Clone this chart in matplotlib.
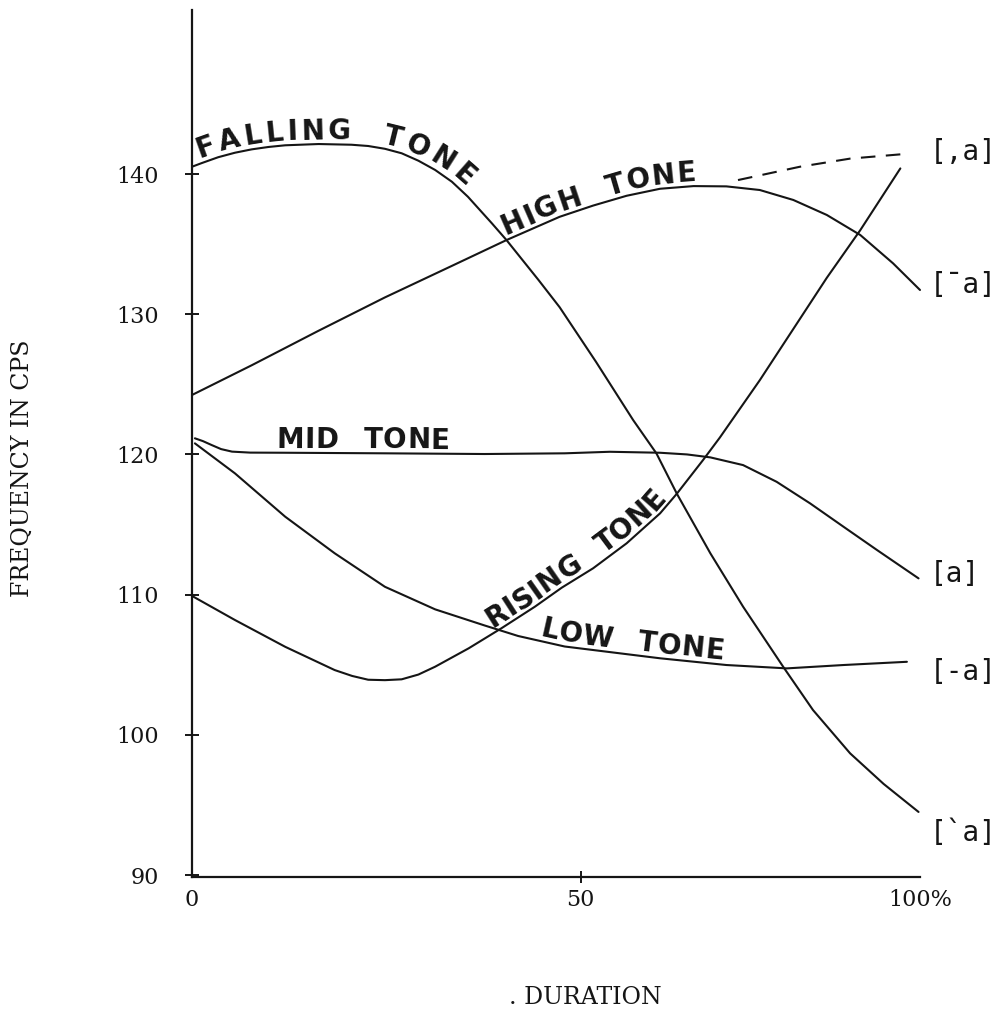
import numpy as np
import matplotlib
matplotlib.use("Agg")
import matplotlib.pyplot as plt
from matplotlib.font_manager import FontProperties
from matplotlib.transforms import offset_copy

# ---------------- data ----------------
falling_x = [0.0, 1.33, 3.6, 5.9, 8.2, 10.5, 12.8, 17.4, 21.9, 24.2, 26.5, 28.8,
             31.1, 33.4, 35.7, 37.9, 41.2, 43.2, 47.6, 50.5, 55.5, 60.6, 63.8,
             66.6, 71.2, 75.7, 81.2, 85.3, 90.4, 95.0, 99.8]
falling_y = [140.52, 140.78, 141.2, 141.52, 141.76, 141.93, 142.05, 142.14, 142.09,
             142.0, 141.8, 141.48, 140.95, 140.29, 139.45, 138.38, 136.48, 135.29,
             132.44, 130.5, 126.6, 122.45, 120.07, 117.2, 112.95, 109.14, 104.86,
             101.77, 98.68, 96.5, 94.5]

high_x = [0.0, 8.2, 17.3, 26.5, 35.7, 43.2, 50.5, 55.1, 59.7, 64.3, 68.9, 73.4,
          78.0, 82.6, 87.2, 91.8, 96.3, 100.0]
high_y = [124.24, 126.36, 128.8, 131.2, 133.45, 135.29, 136.95, 137.75, 138.45,
          138.95, 139.14, 139.12, 138.86, 138.15, 137.08, 135.65, 133.63, 131.73]

high_dash_x = [75.0, 83.5, 90.4, 97.9]
high_dash_y = [139.57, 140.52, 141.1, 141.43]

mid_x = [0.4, 1.5, 2.7, 4.0, 5.5, 8.0, 12.8, 26.5, 40.2, 51.2, 57.4, 64.3, 68.0,
         71.2, 75.7, 80.3, 84.9, 89.5, 94.1, 99.8]
mid_y = [121.15, 120.95, 120.67, 120.38, 120.2, 120.13, 120.12, 120.08, 120.03,
         120.08, 120.19, 120.12, 120.0, 119.79, 119.24, 118.05, 116.51, 114.84,
         113.18, 111.16]

rising_x = [0.2, 5.9, 12.8, 19.6, 22.0, 24.2, 26.5, 28.8, 31.1, 33.4, 38.0, 42.5,
            47.1, 50.8, 55.1, 59.7, 64.3, 66.6, 70.2, 72.5, 78.0, 82.6, 87.2,
            91.8, 97.3]
rising_y = [109.85, 108.19, 106.28, 104.62, 104.2, 103.93, 103.9, 103.96, 104.3,
            104.86, 106.17, 107.6, 109.14, 110.5, 111.88, 113.66, 115.8, 117.2,
            119.6, 121.2, 125.3, 128.95, 132.6, 136.0, 140.4]

low_x = [0.4, 5.9, 12.8, 19.6, 26.5, 33.4, 40.2, 44.8, 51.2, 55.1, 64.3, 73.4,
         81.7, 89.5, 98.2]
low_y = [120.79, 118.65, 115.56, 112.95, 110.56, 108.95, 107.8, 107.05, 106.3,
         106.05, 105.46, 104.98, 104.74, 104.98, 105.21]

tone_names = ["FALLING TONE", "HIGH TONE", "MID TONE", "RISING TONE", "LOW TONE"]
end_labels = ["[`a]", "[\u00afa]", "[a]", "[-a]", "[,a]"]

y_ticks = [90, 100, 110, 120, 130, 140]
x_tick_labels = ["0", "50", "100%"]
x_tick_pos = [0, 53.4, 100]     # where the hand-drawn ticks sit on the axis

y_label = "FREQUENCY IN CPS"
x_label = ". DURATION"

# ---------------- figure ----------------
W, H, DPI = 1004, 1011, 100
fig = plt.figure(figsize=(W / DPI, H / DPI), dpi=DPI, facecolor="white")
ax = fig.add_axes([192 / W, 1 - 877 / H, 728 / W, 867 / H])
ax.set_xlim(0, 100)
ax.set_ylim(89.86, 151.7)

ink = "#151515"
lw = 1.5

for sp in ("top", "right"):
    ax.spines[sp].set_visible(False)
for sp in ("left", "bottom"):
    ax.spines[sp].set_linewidth(1.6)
    ax.spines[sp].set_color(ink)

curves = [(falling_x, falling_y), (high_x, high_y), (mid_x, mid_y),
          (rising_x, rising_y), (low_x, low_y)]
for xs, ys in curves:
    ax.plot(xs, ys, color=ink, lw=lw, clip_on=False, solid_capstyle="round",
            solid_joinstyle="round")
ax.plot(high_dash_x, high_dash_y, color=ink, lw=lw, linestyle=(0, (7, 5)),
        clip_on=False)

# ticks
ax.set_yticks(y_ticks)
ax.set_yticklabels([str(v) for v in y_ticks])
ax.tick_params(axis="y", direction="inout", length=10, width=1.4, pad=19,
               labelsize=16, colors=ink)
ax.set_xticks(x_tick_pos)
ax.set_xticklabels(x_tick_labels)
ax.tick_params(axis="x", direction="inout", length=9, width=1.4, pad=4,
               labelsize=16, colors=ink)
for lab in ax.get_xticklabels() + ax.get_yticklabels():
    lab.set_family("DejaVu Serif")
xt = ax.xaxis.get_major_ticks()
xt[0].tick1line.set_visible(False)
xt[2].tick1line.set_visible(False)

# axis titles
fig.text(22 / W, 1 - 468 / H, y_label, rotation=90, ha="center", va="center",
         family="DejaVu Serif", fontsize=17, color=ink)
fig.text(585 / W, 1 - 997 / H, x_label, ha="center", va="center",
         family="DejaVu Serif", fontsize=17, color=ink)

# end labels
end_curves = [(falling_x, falling_y), (high_x, high_y), (mid_x, mid_y),
              (low_x, low_y), (high_dash_x, high_dash_y)]
end_dy_px = [-21, 5, 4, -10, 2]
mono = FontProperties(family="DejaVu Sans Mono", size=20)
for lab, (xs, ys), dy in zip(end_labels, end_curves, end_dy_px):
    tr = offset_copy(ax.transData, fig=fig, x=0, y=dy, units="dots")
    ax.text(101.4, ys[-1], lab, transform=tr, ha="left", va="center",
            fontproperties=mono, color=ink, clip_on=False)

# curve labels laid along the curves
bold = FontProperties(family="DejaVu Sans", weight="bold", size=20)
renderer = fig.canvas.get_renderer()


def place_along(xs, ys, text, x0, x1, offset_px):
    pts = ax.transData.transform(np.column_stack([xs, ys]))
    seg = np.diff(pts, axis=0)
    s = np.concatenate([[0], np.cumsum(np.hypot(seg[:, 0], seg[:, 1]))])
    s0 = np.interp(x0, xs, s)
    s1 = np.interp(x1, xs, s)
    fs_px = bold.get_size_in_points() * DPI / 72
    widths = []
    for c in text:
        if c == " ":
            widths.append(0.85 * fs_px)
        else:
            w, h, d = renderer.get_text_width_height_descent(c, bold, ismath=False)
            widths.append(w)
    widths = np.array(widths)
    track = (s1 - s0 - widths.sum()) / max(len(text) - 1, 1)
    pos = s0
    inv = ax.transData.inverted()
    for c, w in zip(text, widths):
        sc = pos + w / 2
        pos += w + track
        if c == " ":
            continue
        px = np.interp(sc, s, pts[:, 0])
        py = np.interp(sc, s, pts[:, 1])
        pa = np.array([np.interp(sc - 8, s, pts[:, 0]), np.interp(sc - 8, s, pts[:, 1])])
        pb = np.array([np.interp(sc + 8, s, pts[:, 0]), np.interp(sc + 8, s, pts[:, 1])])
        ang = np.arctan2(pb[1] - pa[1], pb[0] - pa[0])
        nx, ny = -np.sin(ang), np.cos(ang)
        xd, yd = inv.transform((px + nx * offset_px, py + ny * offset_px))
        ax.text(xd, yd, c, rotation=np.degrees(ang), rotation_mode="anchor",
                ha="center", va="baseline", fontproperties=bold, color=ink,
                clip_on=False)


label_spans = [(1.3, 37.1), (43.4, 69.3), (11.6, 35.4), (41.6, 65.7), (47.6, 72.9)]
for name, (xs, ys), (a, b) in zip(tone_names,
                                  [(falling_x, falling_y), (high_x, high_y),
                                   (mid_x, mid_y), (rising_x, rising_y),
                                   (low_x, low_y)],
                                  label_spans):
    place_along(xs, ys, name, a, b, 5)

fig.savefig("out.png", dpi=DPI, facecolor="white")
